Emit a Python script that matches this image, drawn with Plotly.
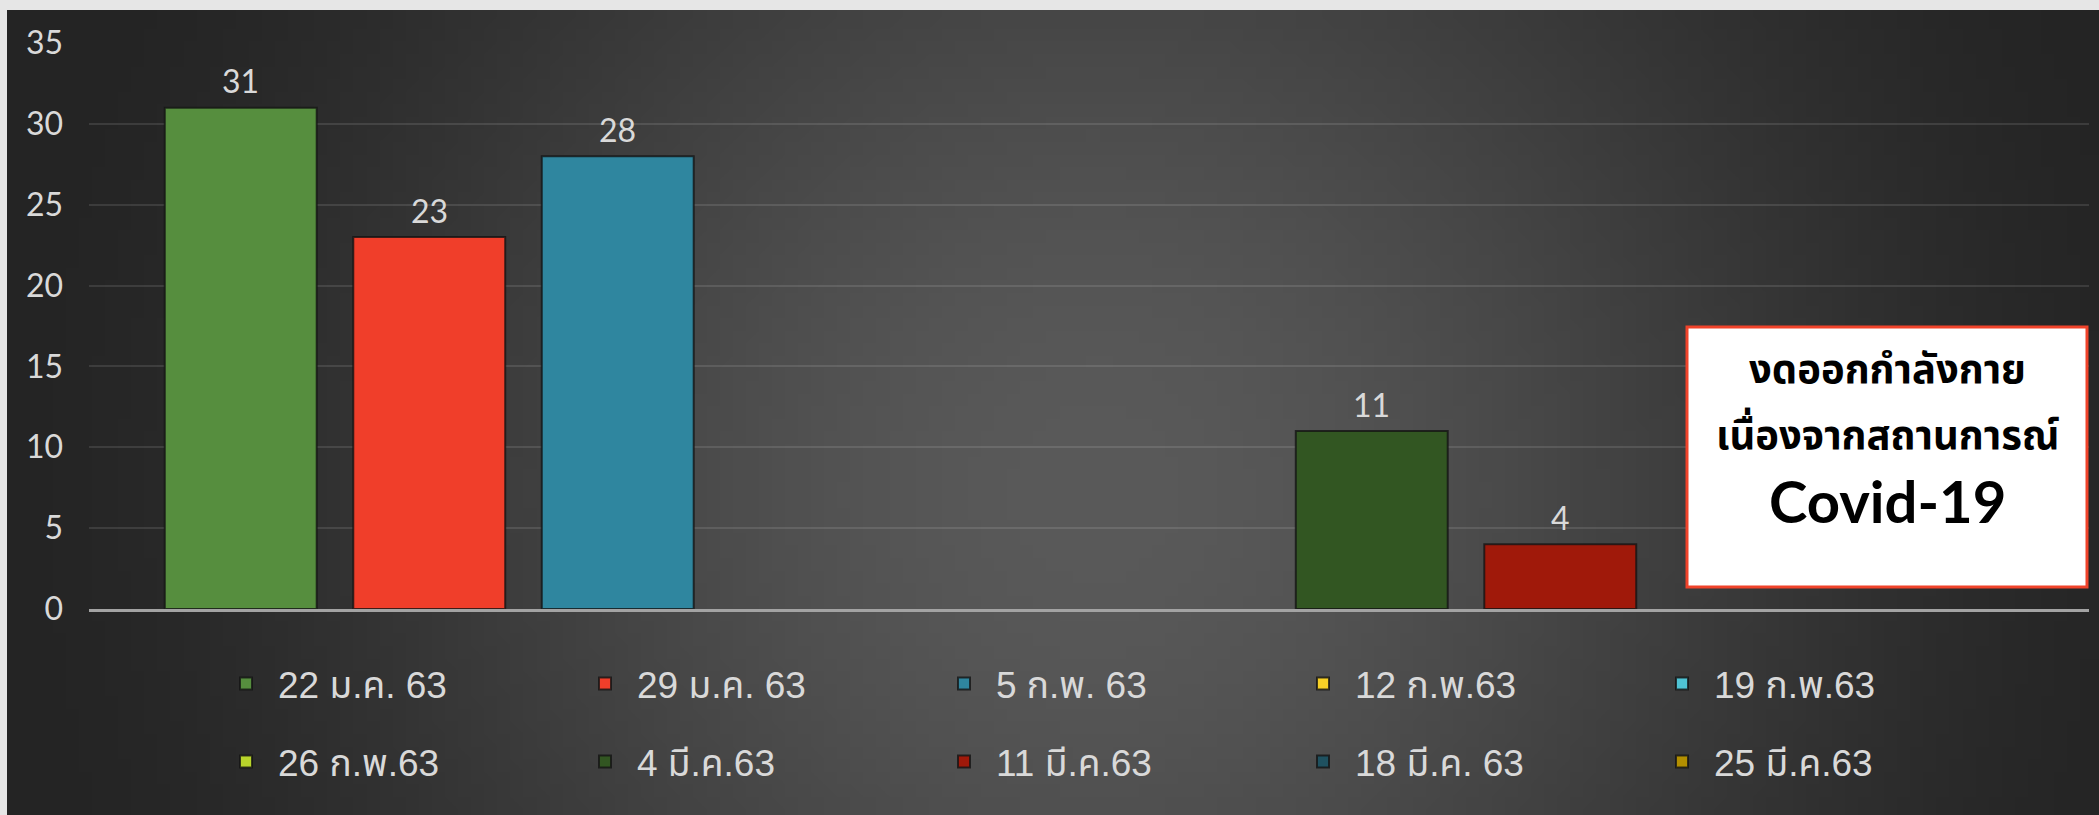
import base64
import struct
import zlib

import plotly.graph_objects as go

# ---------------- data ----------------
series = ["22 ม.ค. 63", "29 ม.ค. 63", "5 ก.พ. 63", "12 ก.พ.63", "19 ก.พ.63",
          "26 ก.พ.63", "4 มี.ค.63", "11 มี.ค.63", "18 มี.ค. 63", "25 มี.ค.63"]
values = [31, 23, 28, None, None, None, 11, 4, None, None]
colors = ["#568e3e", "#f03e2a", "#2f869f", "#f8d126", "#4fc3d4",
          "#b9d52b", "#325622", "#a0190a", "#1f5160", "#b38f00"]
y_ticks = [0, 5, 10, 15, 20, 25, 30, 35]
box_lines = ["งดออกกำลังกาย", "เนื่องจากสถานการณ์", "Covid-19"]

W, H = 2099, 815
ML, MR, MT, MB = 89, 10, 43, 206
PW, PH = W - ML - MR, H - MT - MB


# ---------------- background gradient (style only) ----------------
def make_png(w, h, dark=36, light=90, cx=0.52, cy=0.6, rx=0.55, ry=1.5):
    rows = []
    for j in range(h):
        row = bytearray([0])
        for i in range(w):
            dx = (i / (w - 1) - cx) / rx
            dy = (j / (h - 1) - cy) / ry
            d = min(1.0, (dx * dx + dy * dy) ** 0.5)
            t = 1 - d
            t = t * t * (3 - 2 * t)
            v = int(dark + (light - dark) * t)
            row += bytes([v, v, v])
        rows.append(bytes(row))
    raw = b"".join(rows)

    def chunk(tag, data):
        return (struct.pack(">I", len(data)) + tag + data
                + struct.pack(">I", zlib.crc32(tag + data) & 0xFFFFFFFF))

    png = (b"\x89PNG\r\n\x1a\n"
           + chunk(b"IHDR", struct.pack(">IIBBBBB", w, h, 8, 2, 0, 0, 0))
           + chunk(b"IDAT", zlib.compress(raw, 9))
           + chunk(b"IEND", b""))
    return "data:image/png;base64," + base64.b64encode(png).decode()


bg_src = make_png(160, 64)

NUM_FONT = "Lato, 'Open Sans', sans-serif"
LEG_FONT = "'Liberation Sans', 'Noto Sans Thai', Arial, sans-serif"
BOX_FONT = "Lato, 'Noto Sans Thai', 'Noto Sans', sans-serif"

fig = go.Figure()
for i, (name, v, c) in enumerate(zip(series, values, colors)):
    fig.add_trace(go.Bar(
        x=[name], y=[v], name=name,
        marker=dict(color=c, line=dict(color="rgba(20,20,20,0.8)", width=2)),
        legend="legend" if i < 5 else "legend2",
        hoverinfo="skip",
    ))

annotations = []
for name, v in zip(series, values):
    if v is None:
        continue
    annotations.append(dict(
        x=name, y=v, xref="x", yref="y", text=str(v), showarrow=False,
        yshift=27, yanchor="middle",
        font=dict(family=NUM_FONT, size=32, color="#d9d9d9"),
    ))

# text box
box_x0 = (1687 - ML) / PW
box_x1 = (2087 - ML) / PW
box_y0 = (MT + PH - 587) / PH
box_y1 = (MT + PH - 327) / PH
box_cx = (box_x0 + box_x1) / 2
line_px = [368, 432, 500]
line_sizes = [40, 40, 58]
for txt, py, sz in zip(box_lines, line_px, line_sizes):
    annotations.append(dict(
        x=box_cx, y=(MT + PH - py) / PH, xref="paper", yref="paper",
        text="<b>%s</b>" % txt, showarrow=False, xanchor="center", yanchor="middle",
        font=dict(family=BOX_FONT, size=sz, color="#000000"),
    ))

legend_common = dict(
    orientation="h", xanchor="left", yanchor="middle",
    font=dict(family=LEG_FONT, size=37, color="#d9d9d9"),
    entrywidth=290, entrywidthmode="pixels", itemwidth=54,
    bgcolor="rgba(0,0,0,0)", traceorder="normal",
)

fig.update_layout(
    width=W, height=H,
    margin=dict(l=ML, r=MR, t=MT, b=MB, pad=0),
    paper_bgcolor="#e6e6e6",
    plot_bgcolor="rgba(0,0,0,0)",
    barmode="overlay",
    bargap=0.194,
    showlegend=True,
    legend=dict(x=(214 - ML) / PW, y=(MT + PH - 684) / PH, **legend_common),
    legend2=dict(x=(214 - ML) / PW, y=(MT + PH - 762) / PH, **legend_common),
    xaxis=dict(
        type="category", range=[-0.805, 9.805], showticklabels=False,
        showgrid=False, zeroline=False, ticks="",
        showline=True, linecolor="#a3a3a3", linewidth=3,
        fixedrange=True,
    ),
    yaxis=dict(
        range=[0, 35], tickvals=y_ticks, showgrid=True,
        gridcolor="rgba(255,255,255,0.11)", gridwidth=2,
        zeroline=False, showline=False, ticks="",
        ticklabelstandoff=25,
        tickfont=dict(family=NUM_FONT, size=32, color="#d9d9d9"),
        fixedrange=True,
    ),
    shapes=[dict(
        type="rect", xref="paper", yref="paper",
        x0=box_x0, x1=box_x1, y0=box_y0, y1=box_y1,
        fillcolor="#ffffff", line=dict(color="#f0432a", width=3), layer="above",
    )],
    annotations=annotations,
    images=[dict(
        source=bg_src, xref="paper", yref="paper",
        x=(7 - ML) / PW, y=1 + (MT - 10) / PH,
        sizex=(W - 7) / PW, sizey=(H - 10) / PH,
        xanchor="left", yanchor="top", sizing="stretch", layer="below",
    )],
)

fig.write_html(
    "out.html",
    config={"displayModeBar": False},
    post_script="document.body.style.margin='0px';document.body.style.overflow='hidden';",
)
